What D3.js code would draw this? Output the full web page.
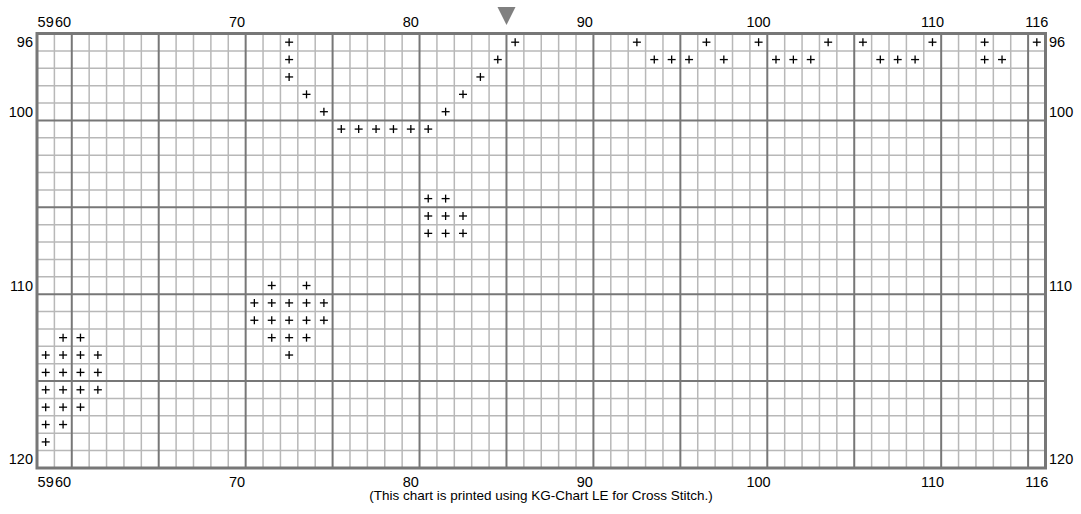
<!DOCTYPE html>
<html>
<head>
<meta charset="utf-8">
<script src="https://cdn.jsdelivr.net/npm/d3@7"></script>
<style>
body{margin:0;padding:0;background:#fff;overflow:hidden;}
text{font-family:"Liberation Sans",Arial,sans-serif;}
</style>
</head>
<body>
<script>
// grid extent (columns / rows of the chart)
const colStart = 59, colEnd = 116;
const rowStart = 96, rowEnd = 120;
const colLabels = [59, 60, 70, 80, 90, 100, 110, 116];
const rowLabels = [96, 100, 110, 120];
const centerCol = 86; // marker sits on left edge of this column

// stitches: each row and its stitched columns
const stitchRows = [96, 97, 98, 99, 100, 101, 105, 106, 107, 110, 111, 112, 113, 114, 115, 116, 117, 118, 119];
const stitchCols = [
  [73, 86, 93, 97, 100, 104, 106, 110, 113, 116],
  [73, 85, 94, 95, 96, 98, 101, 102, 103, 107, 108, 109, 113, 114],
  [73, 84],
  [74, 83],
  [75, 82],
  [76, 77, 78, 79, 80, 81],
  [81, 82],
  [81, 82, 83],
  [81, 82, 83],
  [72, 74],
  [71, 72, 73, 74, 75],
  [71, 72, 73, 74, 75],
  [60, 61, 72, 73, 74],
  [59, 60, 61, 62, 73],
  [59, 60, 61, 62],
  [59, 60, 61, 62],
  [59, 60, 61],
  [59, 60],
  [59]
];
const footer = "(This chart is printed using KG-Chart LE for Cross Stitch.)";

const W = 1081, H = 514;
const svg = d3.select("body").append("svg").attr("width", W).attr("height", H);

const x = d3.scaleLinear().domain([colStart, colEnd + 1]).range([37, 1045.5]);
const y = d3.scaleLinear().domain([rowStart, rowEnd + 1]).range([33.5, 468]);

const vLines = d3.range(colStart + 1, colEnd + 1);
const hLines = d3.range(rowStart + 1, rowEnd + 1);
const isBold = v => v % 5 === 1;

const grid = svg.append("g");
grid.selectAll("line.v").data(vLines.filter(v => !isBold(v))).join("line")
  .attr("x1", d => x(d)).attr("x2", d => x(d))
  .attr("y1", y(rowStart)).attr("y2", y(rowEnd + 1))
  .attr("stroke", "#b8b8b8").attr("stroke-width", 1.5);
grid.selectAll("line.h").data(hLines.filter(v => !isBold(v))).join("line")
  .attr("y1", d => y(d)).attr("y2", d => y(d))
  .attr("x1", x(colStart)).attr("x2", x(colEnd + 1))
  .attr("stroke", "#b8b8b8").attr("stroke-width", 1.5);

const bold = svg.append("g");
bold.selectAll("line.vb").data(vLines.filter(isBold)).join("line")
  .attr("x1", d => x(d)).attr("x2", d => x(d))
  .attr("y1", y(rowStart)).attr("y2", y(rowEnd + 1))
  .attr("stroke", "#777").attr("stroke-width", 2);
bold.selectAll("line.hb").data(hLines.filter(isBold)).join("line")
  .attr("y1", d => y(d)).attr("y2", d => y(d))
  .attr("x1", x(colStart)).attr("x2", x(colEnd + 1))
  .attr("stroke", "#777").attr("stroke-width", 2);

svg.append("rect")
  .attr("x", x(colStart)).attr("y", y(rowStart))
  .attr("width", x(colEnd + 1) - x(colStart))
  .attr("height", y(rowEnd + 1) - y(rowStart))
  .attr("fill", "none").attr("stroke", "#777").attr("stroke-width", 3);

// stitches
const stitches = [];
stitchRows.forEach((r, i) => stitchCols[i].forEach(c => stitches.push([c, r])));
const s = 4;
const plus = svg.append("g").selectAll("g").data(stitches).join("g")
  .attr("transform", d => `translate(${x(d[0] + 0.5)},${y(d[1] + 0.5)})`);
plus.append("line").attr("x1", -s).attr("x2", s).attr("y1", 0).attr("y2", 0)
  .attr("stroke", "#000").attr("stroke-width", 1.3);
plus.append("line").attr("x1", 0).attr("x2", 0).attr("y1", -s).attr("y2", s)
  .attr("stroke", "#000").attr("stroke-width", 1.3);

// column labels
const fs = 14.5;
svg.append("g").selectAll("text").data(colLabels).join("text")
  .attr("x", d => x(d + 0.5)).attr("y", 27)
  .attr("text-anchor", "middle").attr("font-size", fs).text(d => d);
svg.append("g").selectAll("text").data(colLabels).join("text")
  .attr("x", d => x(d + 0.5)).attr("y", 487)
  .attr("text-anchor", "middle").attr("font-size", fs).text(d => d);

// row labels
svg.append("g").selectAll("text").data(rowLabels).join("text")
  .attr("x", 33).attr("y", d => y(d + 0.5) + 5)
  .attr("text-anchor", "end").attr("font-size", fs).text(d => d);
svg.append("g").selectAll("text").data(rowLabels).join("text")
  .attr("x", 1049).attr("y", d => y(d + 0.5) + 5)
  .attr("text-anchor", "start").attr("font-size", fs).text(d => d);

// center marker
const mx = x(centerCol);
svg.append("path")
  .attr("d", `M${mx - 9},7 L${mx + 9},7 L${mx},25 Z`)
  .attr("fill", "#808080");

svg.append("text").attr("x", 541).attr("y", 500)
  .attr("text-anchor", "middle").attr("font-size", 13.5).text(footer);
</script>
</body>
</html>
